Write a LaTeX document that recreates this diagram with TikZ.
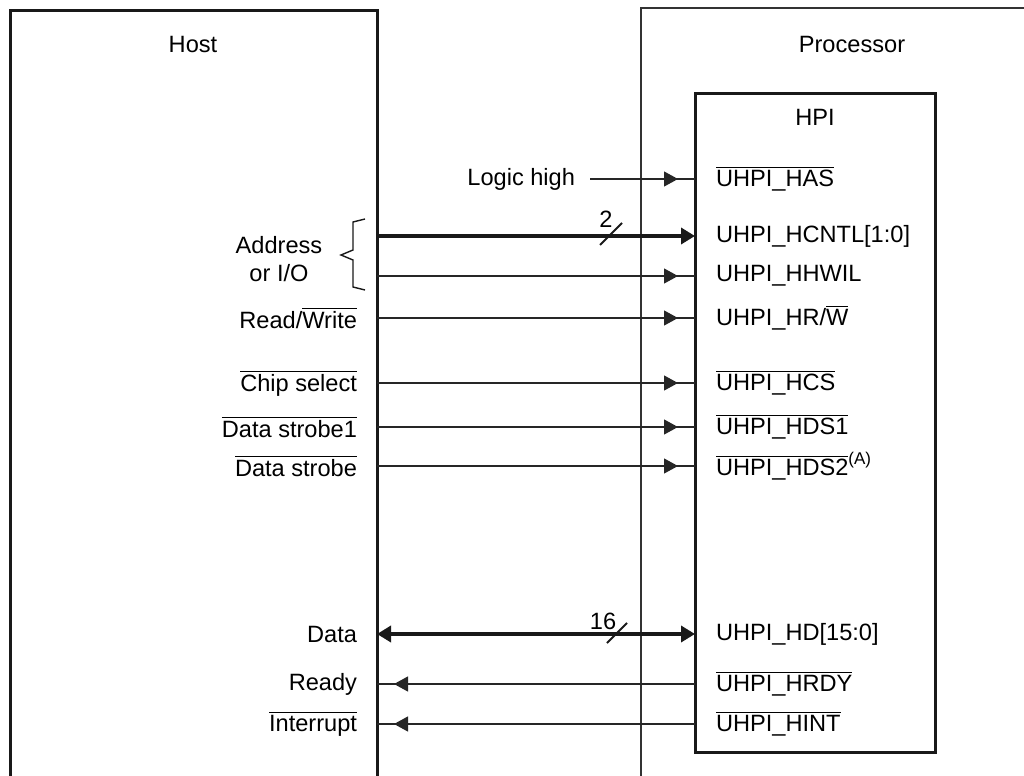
\documentclass[tikz,border=0pt]{standalone}
\usepackage{fontspec}
\setmainfont{Liberation Sans}
\usetikzlibrary{arrows.meta,decorations.markings}
\newcommand{\ovl}[1]{$\overline{\hbox{#1}}$}
\begin{document}
\begin{tikzpicture}[x=0.5pt,y=-0.5pt,
  font=\fontsize{11.8}{14}\selectfont,
  every node/.style={inner sep=0pt, outer sep=0pt},
  thickbox/.style={draw=black!90, line width=1.5pt, anchor=north west},
  thinbox/.style={draw=black!80, line width=0.7pt, anchor=north west},
  lbl/.style={anchor=east},
  pin/.style={anchor=west},
  sig/.style={draw=black!85, line width=0.6pt, postaction={decorate},
    decoration={markings, mark=at position -8.5pt with {\arrow{Triangle[length=7pt,width=7.5pt]}}}},
  bus/.style={draw=black!90, line width=2.3pt},
  slash/.style={draw=black!90, line width=0.9pt}]
\useasboundingbox (0,0) rectangle (1024,776);
\clip (0,0) rectangle (1024,776);
% boxes
\node[thickbox, minimum width=183.5pt, minimum height=400pt] (host) at (10,10) {};
\node[thinbox, minimum width=220pt, minimum height=400pt] (proc) at (641,8) {};
\node[thickbox, fill=white, minimum width=120pt, minimum height=329.5pt] (hpi) at (695,93) {};
% titles
\node (hosttitle) at (193,44) {Host};
\node (proctitle) at (852,44) {Processor};
\node (hpititle) at (815,117) {HPI};
% HPI pins
\node[pin] (has)   at (716,179) {\ovl{UHPI\_HAS}};
\node[pin] (hcntl) at (716,236) {UHPI\_HCNTL[1:0]};
\node[pin] (hhwil) at (716,276) {UHPI\_HHWIL};
\node[pin] (hrw)   at (716,318) {UHPI\_HR/\ovl{W}};
\node[pin] (hcs)   at (716,383) {\ovl{UHPI\_HCS}};
\node[pin] (hds1)  at (716,427) {\ovl{UHPI\_HDS1}};
\node[pin] (hds2)  at (716,466) {\ovl{UHPI\_HDS2}\raisebox{0.9ex}{\fontsize{8.5}{10}\selectfont(A)}};
\node[pin] (hd)    at (716,634) {UHPI\_HD[15:0]};
\node[pin] (hrdy)  at (716,684) {\ovl{UHPI\_HRDY}};
\node[pin] (hint)  at (716,724) {\ovl{UHPI\_HINT}};
% Host labels
\node[lbl] (logic) at (575,179) {Logic high};
\node[align=center] (addr) at (279,259) {Address\\or I/O};
\node[lbl] (rw)   at (357,318) {Read/\ovl{Write}};
\node[lbl] (cs)   at (357,383) {\ovl{Chip select}};
\node[lbl] (ds1)  at (357,427) {\ovl{Data strobe1}};
\node[lbl] (ds)   at (357,466) {\ovl{Data strobe}};
\node[lbl] (data) at (357,634) {Data};
\node[lbl] (rdy)  at (357,684) {Ready};
\node[lbl] (intr) at (357,724) {\ovl{Interrupt}};
% brace
\coordinate (b1) at (365,219);
\coordinate (b2) at (365,290);
\draw[draw=black!90, line width=0.7pt] (b1) -- (353,222) -- (353,250) -- (341,255) -- (353,260) -- (353,287) -- (b2);
% connectors
\coordinate (lgend) at (590,179);
\path[sig] (lgend) -- (hpi.west |- has);
\draw[bus, -{Triangle[length=7pt,width=8pt]}] (host.east |- hcntl) -- (hpi.west |- hcntl);
\path[sig] (host.east |- hhwil) -- (hpi.west |- hhwil);
\path[sig] (host.east |- hrw) -- (hpi.west |- hrw);
\path[sig] (host.east |- hcs) -- (hpi.west |- hcs);
\path[sig] (host.east |- hds1) -- (hpi.west |- hds1);
\path[sig] (host.east |- hds2) -- (hpi.west |- hds2);
\draw[bus, {Triangle[length=7pt,width=8pt]}-{Triangle[length=7pt,width=8pt]}] (host.east |- hd) -- (hpi.west |- hd);
\path[sig] (hpi.west |- hrdy) -- (host.east |- hrdy);
\path[sig] (hpi.west |- hint) -- (host.east |- hint);
% bus width slashes
\draw[slash] (600,245) -- (622,223);
\node (w2) at (606,219) {2};
\draw[slash] (607,643) -- (627,623);
\node (w16) at (603,621) {16};
\end{tikzpicture}
\end{document}
